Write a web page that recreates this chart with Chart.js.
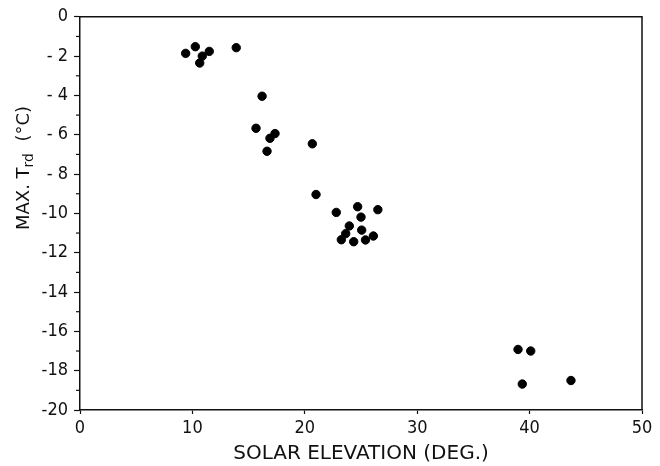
<!DOCTYPE html>
<html>
<head>
<meta charset="utf-8">
<script src="https://cdn.jsdelivr.net/npm/chart.js@4"></script>
<style>
    body { margin: 0; background: #fff; }
    #wrap { width: 660px; height: 466px; }
</style>
</head>
<body>
<div id="wrap"><canvas id="scatterChart"></canvas></div>
<script>
// solar elevation (deg) and max T_rd (deg C)
const elevation = [9.4, 10.26, 10.88, 10.65, 11.5, 13.9,
    16.2, 15.66, 17.35, 16.9, 16.64, 20.67, 21.0,
    22.8, 24.7, 26.5, 25.0, 23.96, 25.06, 23.64, 26.1, 23.25, 24.35, 25.4,
    38.97, 40.1, 39.35, 43.68];
const maxTrd = [-1.86, -1.52, -2.0, -2.35, -1.76, -1.57,
    -4.04, -5.67, -5.94, -6.18, -6.84, -6.46, -9.04,
    -9.95, -9.66, -9.81, -10.19, -10.64, -10.85, -11.03, -11.15, -11.34, -11.44, -11.35,
    -16.92, -17.0, -18.68, -18.5];
const xTicks = [0, 10, 20, 30, 40, 50];
const yMinorTicks = [-1, -3, -5, -7, -9, -11, -13, -15, -17, -19];

const FONT = "'DejaVu Sans', sans-serif";
const TICK_FONT = "'DejaVu Sans Condensed', 'DejaVu Sans', sans-serif";

const points = elevation.map((x, i) => ({ x: x, y: maxTrd[i] }));

// box, minor ticks and the y title with its subscript
const framePlugin = {
    id: 'frame',
    afterDraw(chart) {
        const ctx = chart.ctx;
        const a = chart.chartArea;
        const yScale = chart.scales.y;
        ctx.save();
        ctx.strokeStyle = '#111';
        ctx.lineWidth = 1.5;
        ctx.beginPath();
        ctx.moveTo(a.left, a.top);
        ctx.lineTo(a.right, a.top);
        ctx.lineTo(a.right, a.bottom);
        ctx.stroke();

        ctx.lineWidth = 1.2;
        yMinorTicks.forEach(v => {
            const py = yScale.getPixelForValue(v);
            ctx.beginPath();
            ctx.moveTo(a.left - 4, py);
            ctx.lineTo(a.left, py);
            ctx.stroke();
        });

        ctx.translate(24, 168);
        ctx.rotate(-Math.PI / 2);
        ctx.fillStyle = '#111';
        ctx.textBaseline = 'middle';
        const big = '18px ' + FONT;
        const small = '14px ' + FONT;
        ctx.font = big;
        const w1 = ctx.measureText('MAX. T').width;
        ctx.font = small;
        const w2 = ctx.measureText('rd').width;
        ctx.font = big;
        const w3 = ctx.measureText('  (°C)').width;
        let x0 = -(w1 + w2 + w3) / 2;
        ctx.fillText('MAX. T', x0, 0);
        ctx.font = small;
        ctx.fillText('rd', x0 + w1, 5);
        ctx.font = big;
        ctx.fillText('  (°C)', x0 + w1 + w2, 0);
        ctx.restore();
    }
};

new Chart(document.getElementById('scatterChart'), {
    type: 'scatter',
    data: {
        datasets: [{
            data: points,
            backgroundColor: '#000',
            borderColor: '#000',
            pointRadius: 4.2,
            pointHoverRadius: 4.2
        }]
    },
    options: {
        responsive: true,
        maintainAspectRatio: false,
        animation: false,
        layout: { padding: { top: 16, right: 18, left: 0, bottom: 0 } },
        plugins: {
            legend: { display: false },
            tooltip: { enabled: false }
        },
        scales: {
            x: {
                type: 'linear',
                min: 0,
                max: 50,
                afterBuildTicks: scale => { scale.ticks = xTicks.map(v => ({ value: v })); },
                afterFit: scale => { scale.height = 56; },
                grid: { drawOnChartArea: false, tickLength: 4, tickColor: '#111', tickWidth: 1.2 },
                border: { color: '#111', width: 1.5 },
                ticks: { color: '#111', font: { family: TICK_FONT, size: 18 }, padding: 4, maxRotation: 0 },
                title: {
                    display: true,
                    text: 'SOLAR ELEVATION (DEG.)',
                    color: '#111',
                    font: { family: FONT, size: 20 },
                    padding: { top: 0, bottom: 0 }
                }
            },
            y: {
                min: -20,
                max: 0,
                ticks: {
                    stepSize: 2,
                    color: '#111',
                    font: { family: TICK_FONT, size: 18 },
                    padding: 6,
                    callback: v => v === 0 ? '0' : (v > -10 ? '- ' + (-v) : String(v))
                },
                afterFit: scale => { scale.width = 80; },
                grid: { drawOnChartArea: false, tickLength: 6, tickColor: '#111', tickWidth: 1.2 },
                border: { color: '#111', width: 1.5 }
            }
        }
    },
    plugins: [framePlugin]
});
</script>
</body>
</html>
